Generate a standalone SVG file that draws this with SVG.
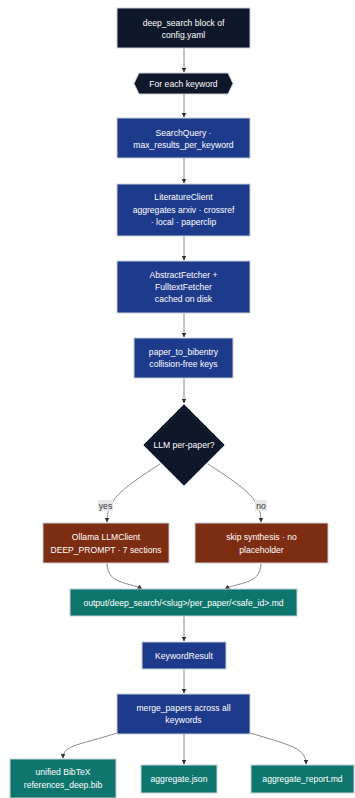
<svg xmlns="http://www.w3.org/2000/svg" width="355" height="798" viewBox="0 0 355 798">
<defs>
<marker id="arr" viewBox="0 0 10 10" refX="9" refY="5" markerWidth="5" markerHeight="5" orient="auto-start-reverse">
<path d="M0,0 L10,5 L0,10 z" fill="#333"/>
</marker>
<style>
.n rect, .n polygon { stroke: #c8cdd6; stroke-width: 1; }
.navy { fill: #0f172a; }
.blue { fill: #1e3a8a; }
.brown { fill: #7c2d12; }
.teal { fill: #0f766e; }
text { font-family: "Liberation Sans", Arial, sans-serif; font-size: 8.6px; fill: #ffffff; text-anchor: middle; }
.e path { fill: none; stroke: #8a8a8a; stroke-width: 1; marker-end: url(#arr); }
.lbl rect { fill: #e8e8e8; }
.lbl text { fill: #333; }
</style>
</defs>
<rect width="355" height="798" fill="#ffffff"/>
<g class="e" id="connectors">
<path d="M184,48 V72"/>
<path d="M184,94 V117"/>
<path d="M184,158 V183"/>
<path d="M184,236 V260"/>
<path d="M184,313 V337"/>
<path d="M184,378 V403"/>
<path d="M160,464 C120,490 107,500 107,522"/>
<path d="M208,464 C248,490 261,500 261,522"/>
<path d="M107,563 C107,585 130,582 142,589"/>
<path d="M261,563 C261,585 238,582 225,589"/>
<path d="M184,616 V641"/>
<path d="M184,669 V693"/>
<path d="M117,733 C80,745 63,745 63,758"/>
<path d="M184,734 V764"/>
<path d="M250,733 C290,745 306,748 306,764"/>
</g>
<g class="lbl" id="edge-labels">
<rect x="98" y="500" width="15" height="11"/>
<text x="105.5" y="508.5">yes</text>
<rect x="255" y="500" width="12" height="11"/>
<text x="261" y="508.5">no</text>
</g>
<g class="n" id="config">
<rect class="navy" x="117" y="8" width="133" height="40"/>
<text x="183.5" y="25.5">deep_search block of</text>
<text x="183.5" y="37.5">config.yaml</text>
</g>
<g class="n" id="foreach">
<polygon class="navy" points="139,73 228,73 233,83.5 228,94 139,94 134,83.5"/>
<text x="183.5" y="86.5">For each keyword</text>
</g>
<g class="n" id="searchquery">
<rect class="blue" x="117" y="118" width="133" height="40"/>
<text x="183.5" y="135.5">SearchQuery ·</text>
<text x="183.5" y="147.5">max_results_per_keyword</text>
</g>
<g class="n" id="literature">
<rect class="blue" x="117" y="184" width="133" height="52"/>
<text x="183.5" y="200">LiteratureClient</text>
<text x="183.5" y="212.5">aggregates arxiv · crossref</text>
<text x="183.5" y="225">· local · paperclip</text>
</g>
<g class="n" id="fetcher">
<rect class="blue" x="117" y="261" width="133" height="52"/>
<text x="183.5" y="277.5">AbstractFetcher +</text>
<text x="183.5" y="290">FulltextFetcher</text>
<text x="183.5" y="302">cached on disk</text>
</g>
<g class="n" id="bibentry">
<rect class="blue" x="134" y="338" width="99" height="40"/>
<text x="183.5" y="355">paper_to_bibentry</text>
<text x="183.5" y="367">collision-free keys</text>
</g>
<g class="n" id="decision">
<polygon class="navy" points="184,404 225,445 184,486 143,445"/>
<text x="184" y="448">LLM per-paper?</text>
</g>
<g class="n" id="ollama">
<rect class="brown" x="43" y="523" width="126" height="40"/>
<text x="106" y="540">Ollama LLMClient</text>
<text x="106" y="552.5">DEEP_PROMPT · 7 sections</text>
</g>
<g class="n" id="skip">
<rect class="brown" x="195" y="523" width="133" height="40"/>
<text x="261.5" y="540">skip synthesis · no</text>
<text x="261.5" y="552.5">placeholder</text>
</g>
<g class="n" id="output">
<rect class="teal" x="70" y="589" width="227" height="27"/>
<text x="183.5" y="605.5">output/deep_search/&lt;slug&gt;/per_paper/&lt;safe_id&gt;.md</text>
</g>
<g class="n" id="keywordresult">
<rect class="blue" x="142" y="642" width="84" height="27"/>
<text x="184" y="658.5">KeywordResult</text>
</g>
<g class="n" id="merge">
<rect class="blue" x="117" y="694" width="133" height="40"/>
<text x="183.5" y="711">merge_papers across all</text>
<text x="183.5" y="723">keywords</text>
</g>
<g class="n" id="bibtex">
<rect class="teal" x="10" y="759" width="106" height="39"/>
<text x="63" y="775">unified BibTeX</text>
<text x="63" y="788">references_deep.bib</text>
</g>
<g class="n" id="aggjson">
<rect class="teal" x="141" y="765" width="76" height="28"/>
<text x="179" y="782">aggregate.json</text>
</g>
<g class="n" id="aggreport">
<rect class="teal" x="251" y="765" width="103" height="28"/>
<text x="302.5" y="782">aggregate_report.md</text>
</g>
</svg>
